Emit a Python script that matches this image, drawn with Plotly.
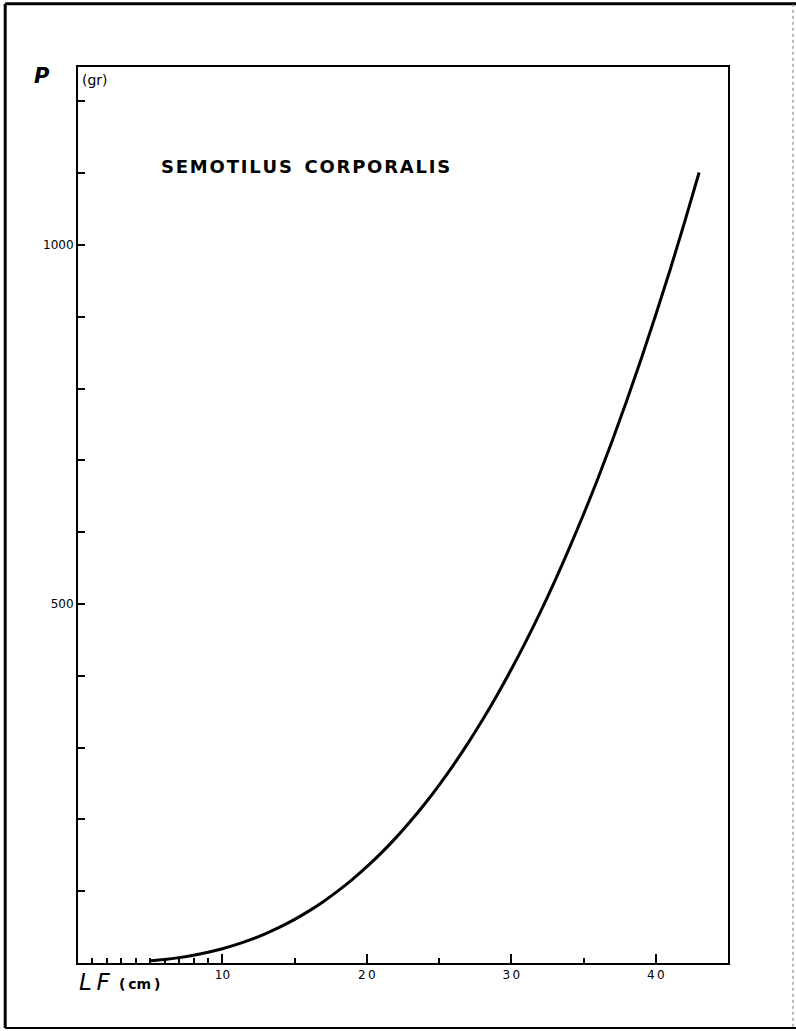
import plotly.graph_objects as go

# Length (cm) vs weight (gr) curve
length_cm = [5, 6, 7, 8, 9, 10, 11, 12, 13, 14, 15, 16, 17, 18, 19, 20, 21, 22, 23, 24,
             25, 26, 27, 28, 29, 30, 31, 32, 33, 34, 35, 36, 37, 38, 39, 40, 41, 42, 43]
weight_gr = [3.0, 4.9, 7.5, 10.8, 14.9, 19.9, 25.9, 32.9, 41.0, 50.3, 60.8, 72.6, 85.8,
             100.4, 116.5, 134.2, 153.4, 174.3, 197.0, 221.5, 247.8, 276.0, 306.2, 338.4,
             372.7, 409.1, 447.7, 488.5, 531.7, 577.2, 625.0, 675.3, 728.2, 783.7, 842.1,
             903.0, 965.9, 1032.2, 1101.0]

x_major_vals = [10, 20, 30, 40]
x_major_text = ["10", "2\u20090", "3\u20090", "4\u20090"]
x_minor_vals = [1, 2, 3, 4, 5, 6, 7, 8, 9, 15, 25, 35]
y_tick_vals = [100, 200, 300, 400, 500, 600, 700, 800, 900, 1000, 1100, 1200]
y_tick_text = ["", "", "", "", "500", "", "", "", "", "1000", "", ""]

title_words = ["SEMOTILUS", "CORPORALIS"]

fig = go.Figure()
fig.add_trace(go.Scatter(
    x=length_cm, y=weight_gr, mode="lines",
    line=dict(color="black", width=3, shape="spline", smoothing=1.0),
    showlegend=False, hoverinfo="skip",
))

font_main = "DejaVu Sans"

fig.update_layout(
    width=796, height=1031,
    margin=dict(l=78, r=68, t=67, b=68),
    paper_bgcolor="white", plot_bgcolor="white",
    showlegend=False,
    xaxis=dict(
        range=[0, 45], showgrid=False, zeroline=False,
        showline=True, linecolor="black", linewidth=2, mirror=True,
        ticks="inside", ticklen=9, tickwidth=2, tickcolor="black",
        tickvals=x_major_vals, ticktext=x_major_text,
        tickfont=dict(family=font_main, size=12, color="black"),
        minor=dict(tickvals=x_minor_vals, ticks="inside", ticklen=5,
                   tickwidth=2, tickcolor="black"),
        fixedrange=True,
    ),
    yaxis=dict(
        range=[0, 1248], showgrid=False, zeroline=False,
        showline=True, linecolor="black", linewidth=2, mirror=True,
        ticks="inside", ticklen=7, tickwidth=2, tickcolor="black",
        tickvals=y_tick_vals, ticktext=y_tick_text,
        tickfont=dict(family=font_main, size=12, color="black"),
        fixedrange=True,
    ),
)

hair = "\u200a"
title_text = "  ".join([hair.join(w) for w in title_words])

# Annotations (axis titles and chart title)
fig.add_annotation(xref="paper", yref="paper", x=-0.0554, y=0.990,
                   text="<b><i>P</i></b>", showarrow=False,
                   font=dict(family=font_main, size=21, color="black"),
                   xanchor="center", yanchor="middle")
fig.add_annotation(xref="paper", yref="paper", x=0.003, y=0.9855,
                   text="(gr)", showarrow=False,
                   font=dict(family=font_main, size=14, color="black"),
                   xanchor="left", yanchor="middle")
fig.add_annotation(xref="paper", yref="paper", x=0.125, y=0.889,
                   text="<b>" + title_text + "</b>", showarrow=False,
                   font=dict(family=font_main, size=18, color="black"),
                   xanchor="left", yanchor="middle")
fig.add_annotation(xref="paper", yref="paper", x=-0.002, y=-0.0212,
                   text="<i>L\u2009F</i>", showarrow=False,
                   font=dict(family=font_main, size=23, color="black"),
                   xanchor="left", yanchor="middle")
fig.add_annotation(xref="paper", yref="paper", x=0.060, y=-0.0235,
                   text="<b>(\u2009cm\u2009)</b>", showarrow=False,
                   font=dict(family=font_main, size=14, color="black"),
                   xanchor="left", yanchor="middle")

# Outer frame of the page
fig.add_shape(type="line", xref="paper", yref="paper",
              x0=-0.112, x1=1.105, y0=1.0705, y1=1.0705,
              line=dict(color="black", width=3))
fig.add_shape(type="line", xref="paper", yref="paper",
              x0=-0.112, x1=-0.112, y0=1.0705, y1=-0.0725,
              line=dict(color="black", width=3))
fig.add_shape(type="line", xref="paper", yref="paper",
              x0=-0.112, x1=1.105, y0=-0.0725, y1=-0.0725,
              line=dict(color="black", width=2))
fig.add_shape(type="line", xref="paper", yref="paper",
              x0=1.1, x1=1.1, y0=1.0705, y1=-0.0725,
              line=dict(color="#777777", width=1, dash="dot"))

fig.write_html("out.html",
               config={"displayModeBar": False, "staticPlot": True},
               post_script="document.body.style.margin='0';document.body.style.overflow='hidden';")
